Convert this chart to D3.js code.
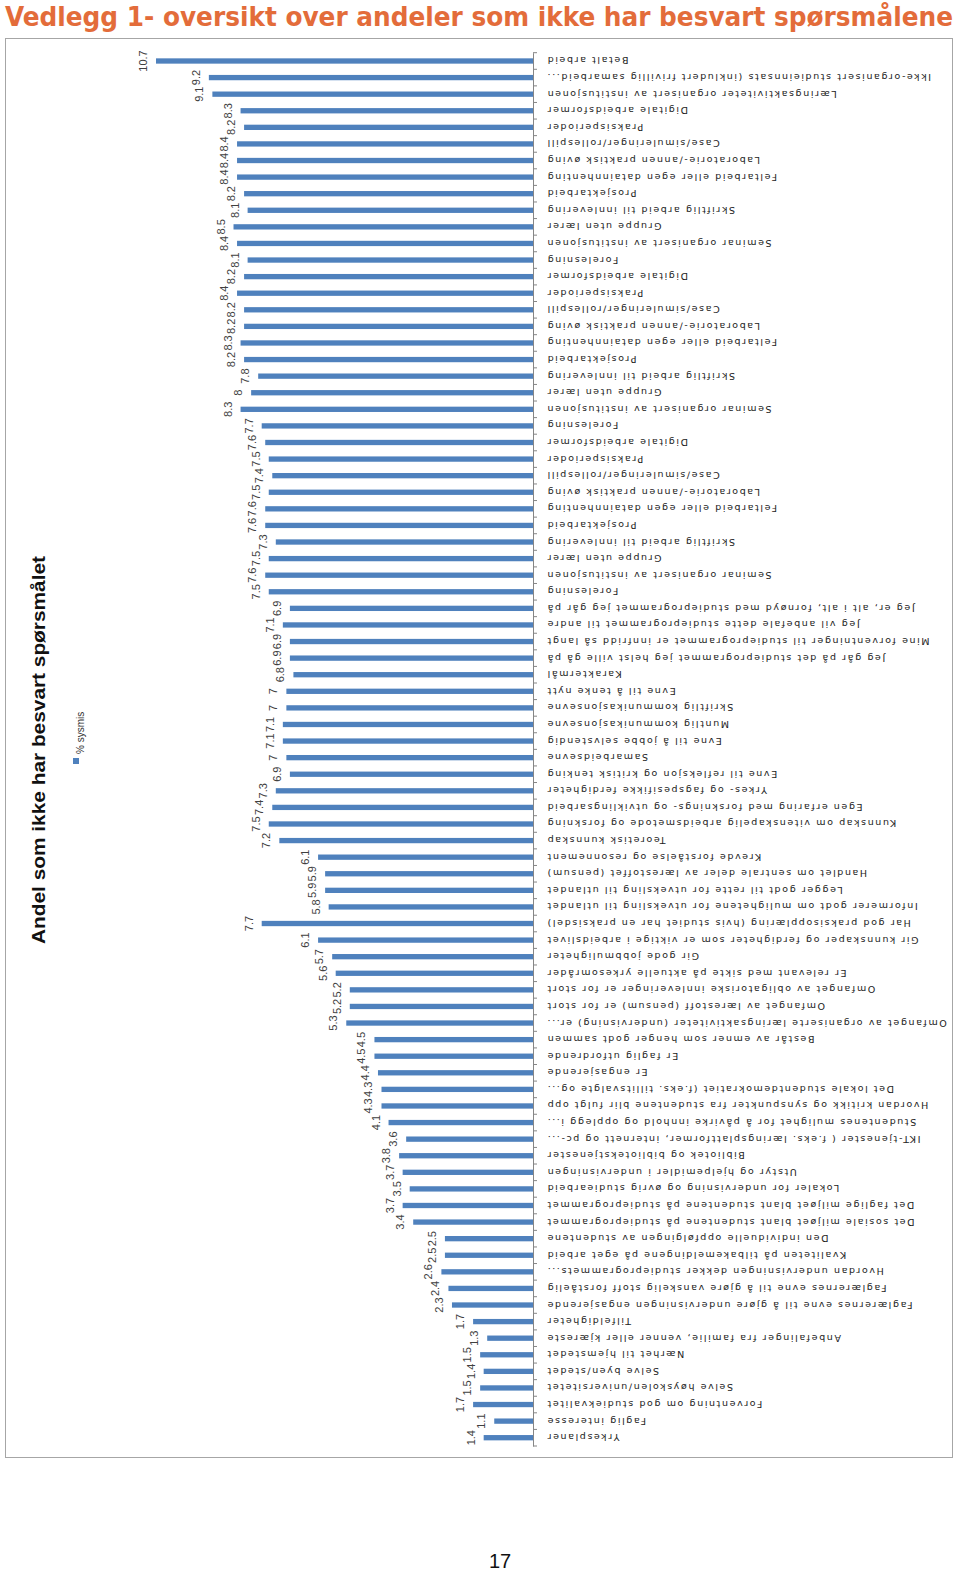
<!DOCTYPE html>
<html><head><meta charset="utf-8">
<script src="https://cdn.jsdelivr.net/npm/d3@7"></script>
<style>body{margin:0;background:#fff}</style>
</head><body>
<svg id="c" width="960" height="1574"></svg>
<script>
const categories = [
"Betalt arbeid",
"Ikke-organisert studieinnsats (inkludert frivillig samarbeid...",
"Læringsaktiviteter organisert av institusjonen",
"Digitale arbeidsformer",
"Praksisperioder",
"Case/simuleringer/rollespill",
"Laboratorie-/annen praktisk øving",
"Feltarbeid eller egen datainnhenting",
"Prosjektarbeid",
"Skriftlig arbeid til innlevering",
"Gruppe uten lærer",
"Seminar organisert av institusjonen",
"Forelesning",
"Digitale arbeidsformer",
"Praksisperioder",
"Case/simuleringer/rollespill",
"Laboratorie-/annen praktisk øving",
"Feltarbeid eller egen datainnhenting",
"Prosjektarbeid",
"Skriftlig arbeid til innlevering",
"Gruppe uten lærer",
"Seminar organisert av institusjonen",
"Forelesning",
"Digitale arbeidsformer",
"Praksisperioder",
"Case/simuleringer/rollespill",
"Laboratorie-/annen praktisk øving",
"Feltarbeid eller egen datainnhenting",
"Prosjektarbeid",
"Skriftlig arbeid til innlevering",
"Gruppe uten lærer",
"Seminar organisert av institusjonen",
"Forelesning",
"Jeg er, alt i alt, fornøyd med studieprogrammet jeg går på",
"Jeg vil anbefale dette studieprogrammet til andre",
"Mine forventninger til studieprogrammet er innfridd så langt",
"Jeg går på det studieprogrammet jeg helst ville gå på",
"Karaktermål",
"Evne til å tenke nytt",
"Skriftlig kommunikasjonsevne",
"Muntlig kommunikasjonsevne",
"Evne til å jobbe selvstendig",
"Samarbeidsevne",
"Evne til refleksjon og kritisk tenking",
"Yrkes- og fagspesifikke ferdigheter",
"Egen erfaring med forsknings- og utviklingsarbeid",
"Kunnskap om vitenskapelig arbeidsmetode og forskning",
"Teoretisk kunnskap",
"Krevde forståelse og resonnement",
"Handlet om sentrale deler av lærestoffet (pensum)",
"Legger godt til rette for utveksling til utlandet",
"Informerer godt om mulighetene for utveksling til utlandet",
"Har god praksisopplæring (hvis studiet har en praksisdel)",
"Gir kunnskaper og ferdigheter som er viktige i arbeidslivet",
"Gir gode jobbmuligheter",
"Er relevant med sikte på aktuelle yrkesområder",
"Omfanget av obligatoriske innleveringer er for stort",
"Omfanget av lærestoff (pensum) er for stort",
"Omfanget av organiserte læringsaktiviteter (undervisning) er...",
"Består av emner som henger godt sammen",
"Er faglig utfordrende",
"Er engasjerende",
"Det lokale studentdemokratiet (f.eks. tillitsvalgte og...",
"Hvordan kritikk og synspunkter fra studentene blir fulgt opp",
"Studentenes mulighet for å påvirke innhold og opplegg i...",
"IKT-tjenester ( f.eks. læringsplattformer, internett og pc-...",
"Bibliotek og bibliotekstjenester",
"Utstyr og hjelpemidler i undervisningen",
"Lokaler for undervisning og øvrig studiearbeid",
"Det faglige miljøet blant studentene på studieprogrammet",
"Det sosiale miljøet blant studentene på studieprogrammet",
"Den individuelle oppfølgingen av studentene",
"Kvaliteten på tilbakemeldingene på eget arbeid",
"Hvordan undervisningen dekker studieprogrammets...",
"Faglærernes evne til å gjøre vanskelig stoff forståelig",
"Faglærernes evne til å gjøre undervisningen engasjerende",
"Tilfeldigheter",
"Anbefalinger fra familie, venner eller kjæreste",
"Nærhet til hjemstedet",
"Selve byen/stedet",
"Selve høyskolen/universitetet",
"Forventning om god studiekvalitet",
"Faglig interesse",
"Yrkesplaner"
];
const values = [
10.7, 9.2, 9.1, 8.3, 8.2, 8.4, 8.4, 8.4, 8.2, 8.1,
8.5, 8.4, 8.1, 8.2, 8.4, 8.2, 8.2, 8.3, 8.2, 7.8,
8, 8.3, 7.7, 7.6, 7.5, 7.4, 7.5, 7.6, 7.6, 7.3,
7.5, 7.6, 7.5, 6.9, 7.1, 6.9, 6.9, 6.8, 7, 7,
7.1, 7.1, 7, 6.9, 7.3, 7.4, 7.5, 7.2, 6.1, 5.9,
5.9, 5.8, 7.7, 6.1, 5.7, 5.6, 5.2, 5.2, 5.3, 4.5,
4.5, 4.4, 4.3, 4.3, 4.1, 3.6, 3.8, 3.7, 3.5, 3.7,
3.4, 2.5, 2.5, 2.6, 2.4, 2.3, 1.7, 1.3, 1.5, 1.4,
1.5, 1.7, 1.1, 1.4
];
const pageTitle = "Vedlegg 1- oversikt over andeler som ikke har besvart spørsmålene";
const axisTitle = "Andel som ikke har besvart spørsmålet";
const seriesName = "% sysmis";
const pageNumber = "17";

const barColor = "#4F81BD";
const svg = d3.select("#c");
svg.append("rect").attr("width", 960).attr("height", 1574).attr("fill", "#fff");

// page title
svg.append("text")
  .attr("x", 5).attr("y", 26)
  .attr("textLength", 948).attr("lengthAdjust", "spacingAndGlyphs")
  .attr("font-family", "'Liberation Sans Narrow','DejaVu Sans Condensed',sans-serif")
  .attr("font-weight", "bold").attr("font-size", 26)
  .attr("fill", "#E36C3A")
  .text(pageTitle);

// chart frame
svg.append("rect")
  .attr("x", 5.5).attr("y", 38.5).attr("width", 947).attr("height", 1419)
  .attr("fill", "none").attr("stroke", "#a6a6a6").attr("stroke-width", 1);

const y = d3.scaleBand()
  .domain(d3.range(categories.length))
  .range([52.7, 1446])
  .paddingInner(0.68).paddingOuter(0.34);
const x = d3.scaleLinear().domain([0, 12]).range([533, 110.2]);
const bw = y.bandwidth();

// bars
svg.append("g").selectAll("rect").data(values).join("rect")
  .attr("x", d => x(d))
  .attr("y", (d, i) => y(i))
  .attr("width", d => x(0) - x(d))
  .attr("height", bw)
  .attr("fill", barColor);

// category axis
const axisG = svg.append("g").attr("transform", `translate(${x(0)},0)`);
axisG.call(d3.axisRight(y).tickSize(0).tickFormat(""));
axisG.select(".domain").attr("stroke", "#868686");
const r0 = y.range()[0], step = y.step();
axisG.selectAll("line.sep").data(d3.range(categories.length + 1)).join("line")
  .attr("class", "sep")
  .attr("x1", 0).attr("x2", 4)
  .attr("y1", k => r0 + k * step).attr("y2", k => r0 + k * step)
  .attr("stroke", "#868686");

// category labels (upside down)
svg.append("g").selectAll("text").data(categories).join("text")
  .attr("transform", (d, i) => `translate(${x(0) + 13},${y(i) + bw / 2}) rotate(180)`)
  .attr("text-anchor", "end")
  .attr("dominant-baseline", "central")
  .attr("font-family", "'DejaVu Sans',sans-serif")
  .attr("font-size", 9.5)
  .attr("letter-spacing", 1.6)
  .attr("fill", "#222")
  .text(d => d);

// value labels
svg.append("g").selectAll("text").data(values).join("text")
  .attr("transform", (d, i) => `translate(${x(d) - 9},${y(i) + bw / 2}) rotate(-90)`)
  .attr("text-anchor", "middle")
  .attr("font-family", "'Liberation Sans',Arial,sans-serif")
  .attr("font-size", 11)
  .attr("fill", "#404040")
  .text(d => d);

// axis title
svg.append("text")
  .attr("transform", "translate(45,750) rotate(-90)")
  .attr("text-anchor", "middle")
  .attr("textLength", 388).attr("lengthAdjust", "spacingAndGlyphs")
  .attr("font-family", "'Liberation Sans',Arial,sans-serif")
  .attr("font-weight", "bold").attr("font-size", 19)
  .attr("fill", "#111")
  .text(axisTitle);

// legend
svg.append("rect").attr("x", 73).attr("y", 758).attr("width", 6).attr("height", 6).attr("fill", barColor);
svg.append("text")
  .attr("transform", "translate(84,754) rotate(-90)")
  .attr("text-anchor", "start")
  .attr("font-family", "'Liberation Sans',Arial,sans-serif")
  .attr("font-size", 10)
  .attr("fill", "#333")
  .text(seriesName);

// page number
svg.append("text")
  .attr("x", 500).attr("y", 1568)
  .attr("text-anchor", "middle")
  .attr("font-family", "'Liberation Sans',Arial,sans-serif")
  .attr("font-size", 20)
  .attr("fill", "#111")
  .text(pageNumber);
</script>
</body></html>
